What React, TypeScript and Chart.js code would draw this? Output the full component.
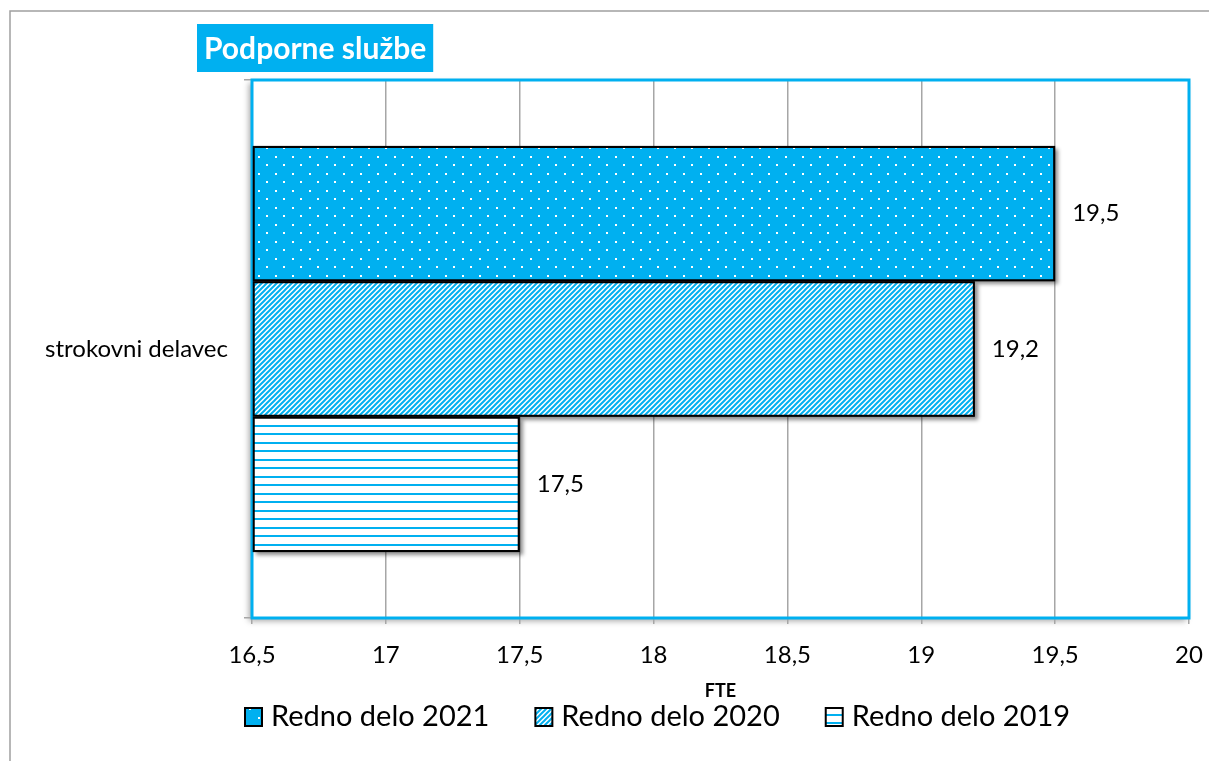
import React, { useEffect, useRef } from 'react';
import { Chart, registerables } from 'chart.js';
Chart.register(...registerables);

const categories = ['strokovni delavec'];
const seriesLabels = ['Redno delo 2021', 'Redno delo 2020', 'Redno delo 2019'];
const values2021 = [19.5];
const values2020 = [19.2];
const values2019 = [17.5];
const xMin = 16.5;
const xMax = 20;
const xStep = 0.5;
const chartTitle = 'Podporne službe';
const axisTitle = 'FTE';

const BLUE = '#00b0f0';
const FONT = 'Lato, "Open Sans", sans-serif';
const fmt = (v: number) => String(v).replace('.', ',');

function makePattern(kind: string): CanvasPattern | string {
  const c = document.createElement('canvas');
  const g = c.getContext('2d') as CanvasRenderingContext2D;
  if (kind === 'dots') {
    c.width = 17; c.height = 17;
    g.fillStyle = BLUE; g.fillRect(0, 0, 17, 17);
    g.fillStyle = '#ffffff';
    g.fillRect(3, 3, 2, 2);
    g.fillRect(11, 11, 2, 2);
  } else if (kind === 'diag') {
    const s = 5;
    c.width = s; c.height = s;
    g.fillStyle = '#ffffff'; g.fillRect(0, 0, s, s);
    g.strokeStyle = BLUE; g.lineWidth = 2;
    g.beginPath();
    g.moveTo(-1, s + 1); g.lineTo(s + 1, -1);
    g.moveTo(-1, 1); g.lineTo(1, -1);
    g.moveTo(s - 1, s + 1); g.lineTo(s + 1, s - 1);
    g.stroke();
  } else {
    c.width = 4; c.height = 17;
    g.fillStyle = '#ffffff'; g.fillRect(0, 0, 4, 17);
    g.fillStyle = BLUE;
    g.fillRect(0, 0, 4, 2);
    g.fillRect(0, 8, 4, 2);
  }
  return g.createPattern(c, 'repeat') as CanvasPattern;
}

export default function App() {
  const ref = useRef<HTMLCanvasElement | null>(null);
  useEffect(() => {
    document.body.style.margin = '0';
    const canvas = ref.current as HTMLCanvasElement;
    const pats = [makePattern('dots'), makePattern('diag'), makePattern('lines')];
    const seriesValues = [values2021, values2020, values2019];

    const decor = {
      id: 'decor',
      beforeDraw(chart: any) {
        const ctx = chart.ctx as CanvasRenderingContext2D;
        const a = chart.chartArea;
        ctx.save();
        ctx.fillStyle = '#ffffff';
        ctx.fillRect(0, 0, chart.width, chart.height);
        // outer frame
        ctx.strokeStyle = '#a0a0a0';
        ctx.lineWidth = 1.5;
        ctx.beginPath();
        ctx.moveTo(10, chart.height);
        ctx.lineTo(10, 11);
        ctx.lineTo(chart.width, 11);
        ctx.stroke();
        // title box
        ctx.font = `bold 30px ${FONT}`;
        const tw = ctx.measureText(chartTitle).width;
        ctx.fillStyle = BLUE;
        ctx.fillRect(197, 24, tw + 14, 48);
        ctx.fillStyle = '#ffffff';
        ctx.textBaseline = 'middle';
        ctx.textAlign = 'left';
        ctx.fillText(chartTitle, 204, 49);
        // plot shadow
        ctx.shadowColor = 'rgba(0,0,0,0.35)';
        ctx.shadowBlur = 6;
        ctx.shadowOffsetX = -3;
        ctx.shadowOffsetY = 3;
        ctx.fillStyle = '#ffffff';
        ctx.fillRect(a.left, a.top, a.right - a.left, a.bottom - a.top);
        ctx.restore();
      },
      beforeDatasetsDraw(chart: any) {
        const ctx = chart.ctx as CanvasRenderingContext2D;
        const a = chart.chartArea;
        ctx.save();
        ctx.strokeStyle = BLUE;
        ctx.lineWidth = 3;
        ctx.strokeRect(a.left, a.top, a.right - a.left, a.bottom - a.top);
        ctx.shadowColor = 'rgba(0,0,0,0.45)';
        ctx.shadowBlur = 4;
        ctx.shadowOffsetX = 3;
        ctx.shadowOffsetY = 3;
        ctx.fillStyle = '#000';
        chart.data.datasets.forEach((_: any, di: number) => {
          const meta = chart.getDatasetMeta(di);
          meta.data.forEach((el: any) => {
            const p = el.getProps(['x', 'y', 'base', 'height'], true);
            ctx.fillRect(p.base, p.y - p.height / 2, p.x - p.base, p.height);
          });
        });
        ctx.restore();
      },
      afterDatasetsDraw(chart: any) {
        const ctx = chart.ctx as CanvasRenderingContext2D;
        ctx.save();
        ctx.font = `24px ${FONT}`;
        ctx.fillStyle = '#000';
        ctx.textBaseline = 'middle';
        ctx.textAlign = 'left';
        chart.data.datasets.forEach((ds: any, di: number) => {
          const meta = chart.getDatasetMeta(di);
          meta.data.forEach((el: any, i: number) => {
            ctx.fillText(fmt(ds.data[i]), el.x + 17, el.y);
          });
        });
        ctx.restore();
      },
      afterDraw(chart: any) {
        const ctx = chart.ctx as CanvasRenderingContext2D;
        const a = chart.chartArea;
        ctx.save();
        ctx.fillStyle = '#000';
        ctx.textBaseline = 'middle';
        ctx.textAlign = 'center';
        ctx.font = `bold 18px ${FONT}`;
        ctx.fillText(axisTitle, (a.left + a.right) / 2, 691);
        // legend
        ctx.font = `29px ${FONT}`;
        ctx.textAlign = 'left';
        let x = 245;
        const yc = 717;
        seriesLabels.forEach((lab, i) => {
          ctx.fillStyle = pats[i] as any;
          ctx.fillRect(x, yc - 9, 17, 18);
          ctx.strokeStyle = '#000';
          ctx.lineWidth = 2;
          ctx.strokeRect(x, yc - 9, 17, 18);
          ctx.fillStyle = '#000';
          ctx.fillText(lab, x + 26, yc);
          x += 26 + ctx.measureText(lab).width + 46;
        });
        ctx.restore();
      },
    };

    const chart = new Chart(canvas, {
      type: 'bar',
      data: {
        labels: categories,
        datasets: seriesLabels.map((lab, i) => ({
          label: lab,
          data: seriesValues[i],
          backgroundColor: pats[i] as any,
          borderColor: '#000000',
          borderWidth: 2,
          borderSkipped: false,
          base: xMin,
          categoryPercentage: 0.755,
          barPercentage: 1,
        })),
      },
      options: {
        indexAxis: 'y',
        responsive: false,
        animation: false,
        devicePixelRatio: 1,
        layout: { padding: { left: 0, top: 80, right: 20, bottom: 0 } },
        scales: {
          x: {
            min: xMin,
            max: xMax,
            ticks: {
              stepSize: xStep,
              callback: (v: any) => fmt(Number(v)),
              color: '#000',
              font: { family: FONT, size: 24 },
              padding: 17,
            },
            grid: { color: '#a6a6a6', lineWidth: 1.5, tickLength: 6 },
            border: { display: false },
            afterFit: (s: any) => { s.height = 143; s.paddingLeft = 0; s.paddingRight = 0; },
          },
          y: {
            ticks: { color: '#000', font: { family: FONT, size: 24 }, padding: 16 },
            grid: { drawOnChartArea: false, tickLength: 8, color: '#a6a6a6', lineWidth: 1.5 },
            border: { display: false },
            afterFit: (s: any) => { s.width = 252; s.paddingTop = 0; s.paddingBottom = 0; },
          },
        },
        plugins: { legend: { display: false }, tooltip: { enabled: false } },
      } as any,
      plugins: [decor],
    });
    return () => chart.destroy();
  }, []);
  return <canvas ref={ref} width={1209} height={761} style={{ display: 'block', width: 1209, height: 761 }} />;
}
